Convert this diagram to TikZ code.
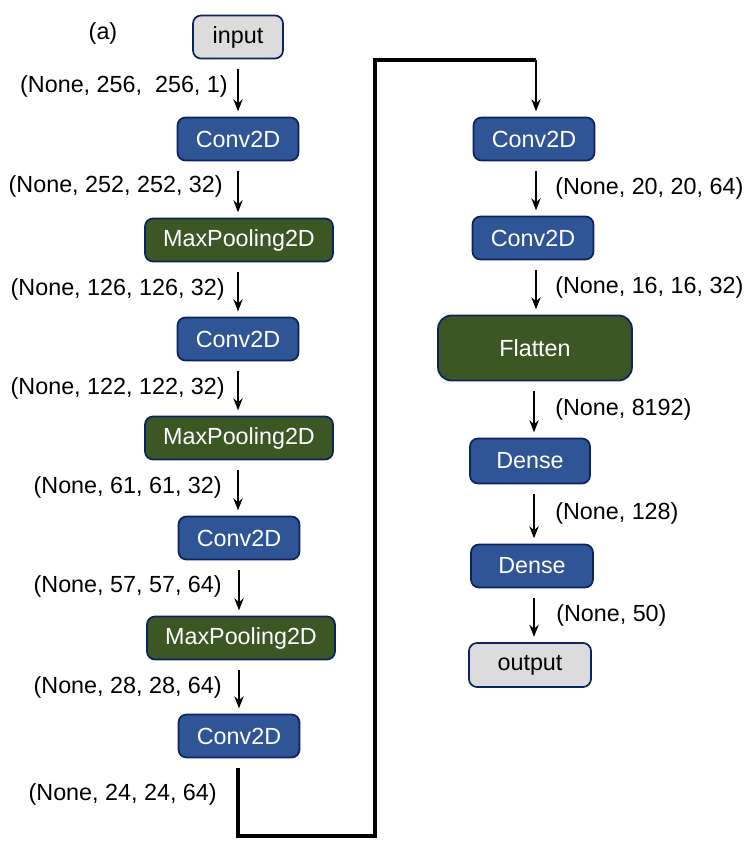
\documentclass[tikz,border=0pt]{standalone}
\usepackage{fontspec}
\setmainfont{Liberation Sans}
\usetikzlibrary{arrows.meta}
\definecolor{bluefill}{HTML}{2F5597}
\definecolor{greenfill}{HTML}{3B5724}
\definecolor{grayfill}{HTML}{DCDCDC}
\definecolor{navy}{HTML}{0C2361}
\begin{document}
\begin{tikzpicture}[x=0.75pt,y=-0.75pt,
  every node/.style={font=\fontsize{17.5pt}{20pt}\selectfont, inner sep=0pt},
  layer/.style={draw=navy, line width=1.3pt, rounded corners=6pt, text=white, align=center},
  conv/.style={layer, fill=bluefill, minimum width=121pt*0.75, minimum height=43pt*0.75},
  pool/.style={layer, fill=greenfill, minimum width=188pt*0.75, minimum height=43pt*0.75},
  io/.style={layer, fill=grayfill, text=black},
  lshape/.style={anchor=east},
  rshape/.style={anchor=west},
  arr/.style={-{Stealth[length=9pt,width=7pt]}, line width=1.1pt, shorten <=7pt, shorten >=4pt}
]
\useasboundingbox (0,0) rectangle (748,852);

% left column
\node (tag) at (103,33) {(a)};
\node[io, minimum width=90pt*0.75, minimum height=43pt*0.75] (in) at (238,37) {input};
\node[conv] (c1) at (238,139) {Conv2D};
\node[pool] (p1) at (239,240) {MaxPooling2D};
\node[conv] (c2) at (238,339) {Conv2D};
\node[pool] (p2) at (239,438) {MaxPooling2D};
\node[conv] (c3) at (239,538) {Conv2D};
\node[pool] (p3) at (241,638) {MaxPooling2D};
\node[conv] (c4) at (239,736) {Conv2D};

\node[lshape] (s1) at (228,86) {(None, 256,~~256, 1)};
\node[lshape] (s2) at (223,186) {(None, 252, 252, 32)};
\node[lshape] (s3) at (225,289) {(None, 126, 126, 32)};
\node[lshape] (s4) at (225,388) {(None, 122, 122, 32)};
\node[lshape] (s5) at (222,487) {(None, 61, 61, 32)};
\node[lshape] (s6) at (222,586) {(None, 57, 57, 64)};
\node[lshape] (s7) at (222,687) {(None, 28, 28, 64)};
\node[lshape] (s8) at (217,794) {(None, 24, 24, 64)};

\draw[arr] (in.south) -- (in.south |- c1.north);
\draw[arr] (c1.south) -- (c1.south |- p1.north);
\draw[arr] (p1.south -| c1.south) -- (c1.south |- c2.north);
\draw[arr] (c2.south) -- (c2.south |- p2.north);
\draw[arr] (p2.south -| c2.south) -- (c2.south |- c3.north);
\draw[arr] (c3.south) -- (c3.south |- p3.north);
\draw[arr] (p3.south -| c3.south) -- (c3.south |- c4.north);

% right column
\node[conv] (c5) at (534,139) {Conv2D};
\node[conv] (c6) at (533,238) {Conv2D};
\node[layer, fill=greenfill, rounded corners=10pt, minimum width=194pt*0.75, minimum height=65pt*0.75] (fl) at (535,348) {Flatten};
\node[conv, minimum width=120pt*0.75, minimum height=45pt*0.75] (d1) at (530,461) {Dense};
\node[conv, minimum width=122pt*0.75] (d2) at (532,566) {Dense};
\node[io, minimum width=122pt*0.75, minimum height=44pt*0.75] (out) at (530,665) {output};

\node[rshape] (r1) at (555,188) {(None, 20, 20, 64)};
\node[rshape] (r2) at (555,287) {(None, 16, 16, 32)};
\node[rshape] (r3) at (555,409) {(None, 8192)};
\node[rshape] (r4) at (555,513) {(None, 128)};
\node[rshape] (r5) at (556,615) {(None, 50)};

\coordinate (x5) at (536,0);
\draw[arr] (c5.south -| x5) -- (x5 |- c6.north);
\draw[arr] (c6.south -| x5) -- (x5 |- fl.north);
\coordinate (x6) at (534,0);
\draw[arr] (fl.south -| x6) -- (x6 |- d1.north);
\draw[arr] (d1.south -| x6) -- (x6 |- d2.north);
\draw[arr] (d2.south -| x6) -- (x6 |- out.north);

% long link
\coordinate (b1) at (238,836);
\coordinate (b2) at (375,836);
\coordinate (b3) at (375,60);
\coordinate (b4) at (536,60);
\draw[line width=3pt] ([yshift=-7pt]c4.south -| b1) -- (b1) -- (b2) -- (b3) -- (b4);
\draw[-{Stealth[length=9pt,width=7pt]}, line width=1.1pt, shorten >=4pt] (b4) -- (b4 |- c5.north);
\end{tikzpicture}
\end{document}
